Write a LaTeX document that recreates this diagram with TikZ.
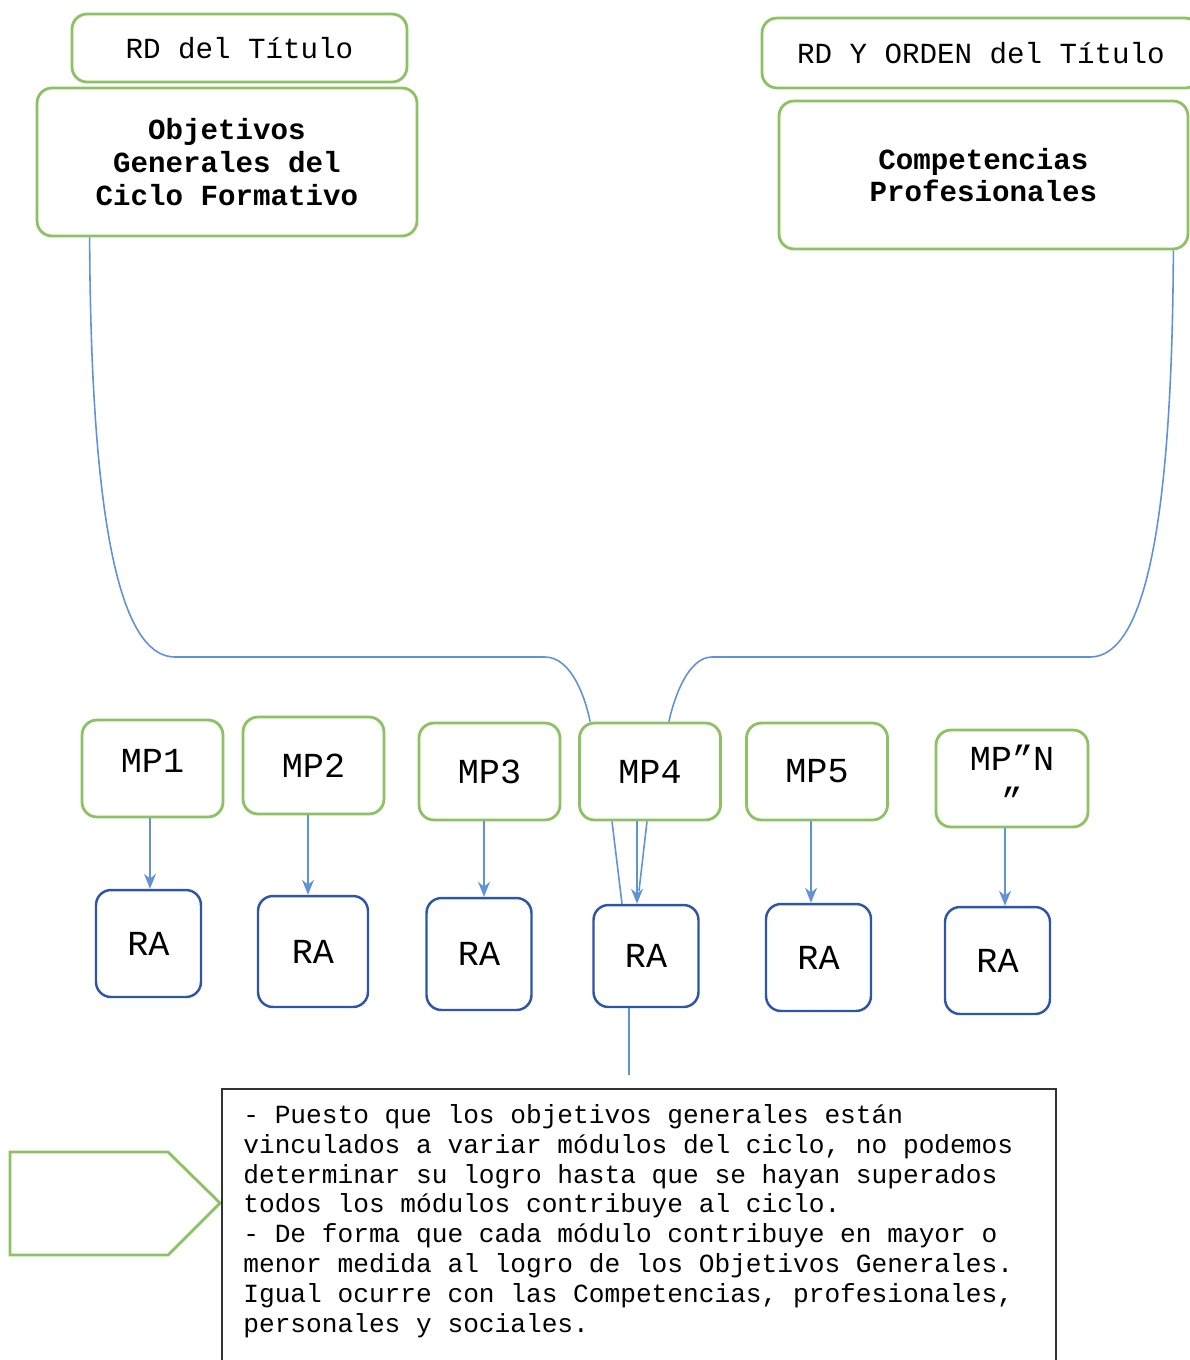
\documentclass[tikz,border=0pt]{standalone}
\usepackage{fontspec}
\setmonofont{Liberation Mono}
\usetikzlibrary{arrows.meta,calc}
\definecolor{verde}{RGB}{141,194,98}
\definecolor{azul}{RGB}{96,146,216}
\definecolor{azuloscuro}{RGB}{46,86,166}
\tikzset{
  caja/.style={draw=verde, line width=1.6pt, rounded corners=0.3cm, fill=white, inner sep=0pt, align=center},
  titulo/.style={caja, minimum height=1.36cm, font=\ttfamily\fontsize{16.6}{20}\selectfont},
  bloque/.style={caja, minimum height=2.96cm, font=\ttfamily\bfseries\fontsize{16.6}{18.7}\selectfont},
  modulo/.style={caja, minimum width=2.82cm, minimum height=1.94cm, font=\ttfamily\fontsize{20}{24}\selectfont},
  resultado/.style={caja, draw=azuloscuro, line width=1.4pt, minimum width=2.1cm, minimum height=2.14cm, font=\ttfamily\fontsize{20}{20}\selectfont},
  linea/.style={draw=azul, line width=0.9pt},
  flecha/.style={linea, -{Stealth[length=0.3cm,width=0.24cm]}}
}

\begin{document}
\begin{tikzpicture}[x=0.02cm, y=-0.02cm]
  %%%%% START %%%%%
  \useasboundingbox (0,0) rectangle (1190,1360);

  % titulos y bloques
  \node[titulo, minimum width=6.7cm] (rdA) at (239.5,48) {RD del Título};
  \node[bloque, minimum width=7.6cm] (obj) at (227,162) {Objetivos\\Generales del\\Ciclo Formativo};
  \node[titulo, minimum width=8.76cm, minimum height=1.4cm] (rdB) at (981,53) {RD Y ORDEN del Título};
  \node[bloque, minimum width=8.18cm] (comp) at (983.5,175) {Competencias\\Profesionales};

  % modulos
  \node[modulo] (mp1) at (152.5,768.5) {\raisebox{0.3cm}{MP1}};
  \node[modulo] (mp2) at (313.5,765.5) {MP2};
  \node[modulo] (mp3) at (489.5,771.5) {MP3};
  \node[modulo] (mp4) at (650,771.5) {MP4};
  \node[modulo] (mp5) at (817,771.5) {MP5};
  \node[modulo, minimum width=3.04cm] (mp6) at (1012,778.5) {MP”N\\”};

  % resultados de aprendizaje
  \node[resultado] (ra1) at (148.5,943.5) {RA};
  \node[resultado, minimum width=2.2cm, minimum height=2.22cm] (ra2) at (313,951.5) {RA};
  \node[resultado, minimum height=2.24cm] (ra3) at (479,954) {RA};
  \node[resultado, minimum height=2.04cm] (ra4) at (646,956) {RA};
  \node[resultado] (ra5) at (818.5,957.5) {RA};
  \node[resultado] (ra6) at (997.5,960.5) {RA};

  \foreach \i/\x in {1/150,2/308,3/484,4/637,5/811,6/1005}
    \draw[flecha] (mp\i.south -| \x,0) -- (ra\i.north -| \x,0);

  % lineas hacia MP4
  \draw[linea] ([xshift=1.08cm]obj.south west) .. controls (91,560) and (128,657) .. (175,657)
    -- (545,657) .. controls (572,657) and (586,700) .. ([xshift=0.24cm]mp4.north west);
  \draw[linea] ([xshift=-0.32cm]comp.south east) .. controls (1172,560) and (1137,657) .. (1090,657)
    -- (712,657) .. controls (688,657) and (674,698) .. ([xshift=-1.06cm]mp4.north east);

  \draw[linea] ([xshift=-0.76cm]mp4.south) -- ([xshift=-0.48cm]ra4.north);
  \draw[linea] ([xshift=-0.06cm]mp4.south) -- ([xshift=-0.14cm,yshift=0.26cm]ra4.north);
  \coordinate (salida) at (629,1075);
  \draw[linea] ([xshift=-0.34cm]ra4.south) -- (salida);

  % nota
  \draw[verde, line width=1.6pt] (10,1152) -- (168,1152) -- (220,1203) -- (168,1255) -- (10,1255) -- cycle;
  \node[draw=black!80, line width=1.1pt, anchor=north west, minimum width=16.68cm, minimum height=5.6cm, inner sep=0pt] (marco) at (221,1088) {};
  \node[anchor=north west, align=left, inner sep=0pt, font=\ttfamily\fontsize{14.9}{17}\selectfont] (nota) at (243,1104)
    {- Puesto que los objetivos generales están\\
     vinculados a variar módulos del ciclo, no podemos\\
     determinar su logro hasta que se hayan superados\\
     todos los módulos contribuye al ciclo.\\
     - De forma que cada módulo contribuye en mayor o\\
     menor medida al logro de los Objetivos Generales.\\
     Igual ocurre con las Competencias, profesionales,\\
     personales y sociales.};
  %%%%% END %%%%%
\end{tikzpicture}
\end{document}
